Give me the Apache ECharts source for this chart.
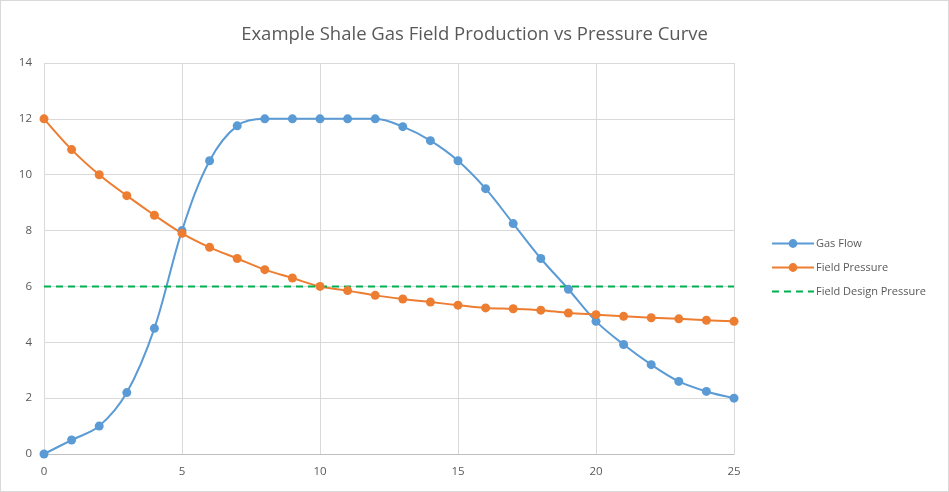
<!DOCTYPE html>
<html><head><meta charset="utf-8">
<script src="https://cdn.jsdelivr.net/npm/echarts@6/dist/echarts.min.js"></script>
<style>html,body{margin:0;padding:0;background:#fff}#c{width:949px;height:492px;box-sizing:border-box;border:1px solid #D9D9D9}</style>
</head><body><div id="c"></div>
<script>
const years = [0,1,2,3,4,5,6,7,8,9,10,11,12,13,14,15,16,17,18,19,20,21,22,23,24,25];
const gasFlow = [0,0.5,1,2.2,4.5,8,10.5,11.75,12,12,12,12,12,11.72,11.22,10.5,9.5,8.25,7,5.9,4.75,3.92,3.2,2.6,2.24,2.0];
const fieldPressure = [12,10.9,10,9.25,8.55,7.9,7.4,7.0,6.6,6.3,6.0,5.85,5.68,5.55,5.44,5.33,5.23,5.2,5.15,5.05,4.99,4.93,4.88,4.84,4.79,4.75];
const designPressure = [6,6,6,6,6,6,6,6,6,6,6,6,6,6,6,6,6,6,6,6,6,6,6,6,6,6];
const seriesNames = ['Gas Flow','Field Pressure','Field Design Pressure'];
const title = 'Example Shale Gas Field Production vs Pressure Curve';

const font = 'Open Sans';
const pair = (ys) => years.map((x,i)=>[x, ys[i]]);
const chart = echarts.init(document.getElementById('c'), null, {renderer:'canvas'});
chart.setOption({
  animation:false,
  title:{text:title,left:'center',top:19,textStyle:{fontFamily:font,fontSize:18.5,fontWeight:'normal',color:'#595959'}},
  grid:{left:43,right:214,top:62,bottom:37,containLabel:false},
  legend:{orient:'vertical',left:765,top:232,itemGap:13,itemWidth:42,itemHeight:11,
    textStyle:{fontFamily:font,fontSize:11,color:'#595959',padding:[0,0,0,-3]},
    data:[seriesNames[0],seriesNames[1],{name:seriesNames[2],itemStyle:{opacity:0}}]},
  xAxis:{type:'value',min:0,max:25,interval:5,
    axisLine:{show:true,lineStyle:{color:'#BFBFBF'}},axisTick:{show:false},
    axisLabel:{fontFamily:font,fontSize:11.5,color:'#595959',margin:12},
    splitLine:{show:true,lineStyle:{color:'#D9D9D9'}}},
  yAxis:{type:'value',min:0,max:14,interval:2,
    axisLine:{show:false},axisTick:{show:false},
    axisLabel:{fontFamily:font,fontSize:11.5,color:'#595959',margin:12},
    splitLine:{show:true,lineStyle:{color:'#D9D9D9'}}},
  series:[
    {name:seriesNames[0],type:'line',data:pair(gasFlow),smooth:0.35,symbol:'circle',symbolSize:9,
      itemStyle:{color:'#5B9BD5'},lineStyle:{color:'#5B9BD5',width:2}},
    {name:seriesNames[1],type:'line',data:pair(fieldPressure),smooth:0.35,symbol:'circle',symbolSize:9,
      itemStyle:{color:'#ED7D31'},lineStyle:{color:'#ED7D31',width:2}},
    {name:seriesNames[2],type:'line',data:pair(designPressure),symbol:'none',
      itemStyle:{color:'#00B050'},lineStyle:{color:'#00B050',width:2,type:[7,5]}}
  ]
});
</script></body></html>
